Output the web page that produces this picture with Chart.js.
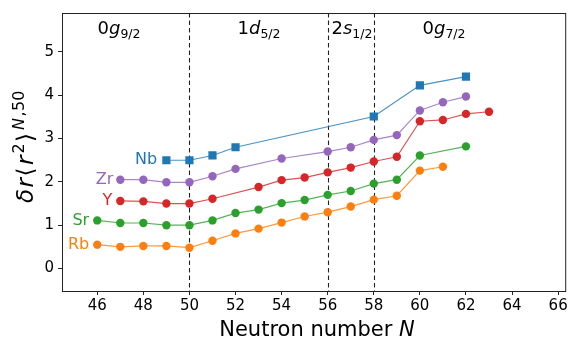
<!DOCTYPE html>
<html>
<head>
<meta charset="utf-8">
<script src="https://cdn.jsdelivr.net/npm/chart.js@4.4.0/dist/chart.umd.min.js"></script>
<style>
  body { margin: 0; background: #fff; }
  #wrap { width: 572px; height: 341px; }
</style>
</head>
<body>
<div id="wrap"><canvas id="c" width="572" height="341"></canvas></div>
<script>
// neutron numbers and charge radius differences per element
var nbN  = [49, 50, 51, 52, 58, 60, 62];
var nbV  = [2.50, 2.50, 2.61, 2.80, 3.51, 4.23, 4.43];
var zrN  = [47, 48, 49, 50, 51, 52, 54, 56, 57, 58, 59, 60, 61, 62];
var zrV  = [2.05, 2.05, 1.99, 1.99, 2.13, 2.30, 2.54, 2.70, 2.80, 2.97, 3.08, 3.65, 3.84, 3.97];
var yN   = [47, 48, 49, 50, 51, 53, 54, 55, 56, 57, 58, 59, 60, 61, 62, 63];
var yV   = [1.56, 1.55, 1.50, 1.50, 1.61, 1.88, 2.04, 2.10, 2.22, 2.33, 2.47, 2.58, 3.40, 3.43, 3.57, 3.62];
var srN  = [46, 47, 48, 49, 50, 51, 52, 53, 54, 55, 56, 57, 58, 59, 60, 62];
var srV  = [1.11, 1.05, 1.05, 1.00, 1.00, 1.11, 1.28, 1.36, 1.51, 1.58, 1.70, 1.79, 1.96, 2.05, 2.61, 2.82];
var rbN  = [46, 47, 48, 49, 50, 51, 52, 53, 54, 55, 56, 57, 58, 59, 60, 61];
var rbV  = [0.55, 0.50, 0.52, 0.52, 0.48, 0.64, 0.81, 0.92, 1.06, 1.20, 1.30, 1.43, 1.59, 1.68, 2.26, 2.35];

var xTicks = [46, 48, 50, 52, 54, 56, 58, 60, 62, 64, 66];
var yTicks = [0, 1, 2, 3, 4, 5];
var shellLines = [50, 56, 58];

var FONT = "'DejaVu Sans', sans-serif";

function pts(xs, ys) {
  return xs.map(function (x, i) { return { x: x, y: ys[i] }; });
}

function series(label, xs, ys, color, line, shape) {
  return {
    label: label,
    data: pts(xs, ys),
    borderColor: line,
    backgroundColor: color,
    borderWidth: 1.2,
    pointStyle: shape,
    pointRadius: shape == 'rect' ? 5.8 : 4.2,
    pointBorderWidth: 0,
    pointBackgroundColor: color,
    pointBorderColor: color
  };
}

// draw a list of [text, font, dy] pieces starting at x
function drawParts(ctx, parts, x, y, align) {
  var total = 0;
  parts.forEach(function (p) { ctx.font = p[1]; total += ctx.measureText(p[0]).width; });
  var cx = x;
  if (align == 'center') cx = x - total / 2;
  if (align == 'right') cx = x - total;
  parts.forEach(function (p) {
    ctx.font = p[1];
    ctx.fillText(p[0], cx, y + (p[2] || 0));
    cx += ctx.measureText(p[0]).width;
  });
}

var decor = {
  id: 'decor',
  beforeDatasetsDraw: function (chart) {
    var ctx = chart.ctx, xs = chart.scales.x, a = chart.chartArea;
    ctx.save();
    ctx.strokeStyle = '#222';
    ctx.lineWidth = 1.1;
    ctx.setLineDash([4.5, 3]);
    shellLines.forEach(function (n) {
      var px = Math.round(xs.getPixelForValue(n)) + 0.5;
      ctx.beginPath();
      ctx.moveTo(px, a.top);
      ctx.lineTo(px, a.bottom);
      ctx.stroke();
    });
    ctx.restore();
  },
  afterDraw: function (chart) {
    var ctx = chart.ctx, xs = chart.scales.x, ys = chart.scales.y, a = chart.chartArea;
    ctx.save();
    // frame
    ctx.strokeStyle = '#222';
    ctx.lineWidth = 1;
    ctx.strokeRect(a.left + 0.5, a.top + 0.5, a.right - a.left - 1, a.bottom - a.top);

    ctx.textBaseline = 'alphabetic';
    ctx.fillStyle = '#000';
    var big = "18px " + FONT, bigI = "italic 18px " + FONT, sub = "12.5px " + FONT;
    var ty = 34;
    drawParts(ctx, [['0', big], ['g', bigI], ['9/2', sub, 4]], 119, ty, 'center');
    drawParts(ctx, [['1', big], ['d', bigI], ['5/2', sub, 4]], 259, ty, 'center');
    drawParts(ctx, [['2', big], ['s', bigI], ['1/2', sub, 4]], 352, ty, 'center');
    drawParts(ctx, [['0', big], ['g', bigI], ['7/2', sub, 4]], 444, ty, 'center');

    // element labels
    var lf = "16px " + FONT;
    var labs = [['Nb', '#1f77b4', 48.6, 2.50], ['Zr', '#9467bd', 46.7, 2.05],
                ['Y', '#d62728', 46.65, 1.56], ['Sr', '#2ca02c', 45.65, 1.11], ['Rb', '#ff7f0e', 45.65, 0.55]];
    labs.forEach(function (l) {
      ctx.fillStyle = l[1];
      ctx.textBaseline = 'middle';
      drawParts(ctx, [[l[0], lf]], xs.getPixelForValue(l[2]), ys.getPixelForValue(l[3]), 'right');
    });

    // axis titles
    ctx.fillStyle = '#000';
    ctx.textBaseline = 'alphabetic';
    drawParts(ctx, [['Neutron number ', "21px " + FONT], ['N', "italic 21px " + FONT]], 317, 336, 'center');

    // y title, pieces placed along the rotated baseline like mathtext spacing
    ctx.translate(33, 203);
    ctx.rotate(-Math.PI / 2);
    var m = "italic 23px " + FONT, mu = "23px " + FONT, sp = "16px " + FONT, spI = "italic 16px " + FONT;
    var yl = [['\u03b4', m, 0, 0], ['r', m, 15.5, 0], ['\u27e8', mu, 26.5, 0], ['r', m, 38, 0],
              ['2', sp, 49.5, -9], ['\u27e9', mu, 61, 0], ['N', spI, 73, -9], [',', sp, 86.5, -9], ['50', sp, 92, -9]];
    yl.forEach(function (p) {
      ctx.font = p[1];
      ctx.fillText(p[0], p[2], p[3]);
    });
    ctx.restore();
  }
};

new Chart(document.getElementById('c'), {
  type: 'line',
  data: {
    datasets: [
      series('Nb', nbN, nbV, '#1f77b4', 'rgba(31,119,180,0.8)', 'rect'),
      series('Zr', zrN, zrV, '#9467bd', 'rgba(148,103,189,0.8)', 'circle'),
      series('Y', yN, yV, '#d62728', 'rgba(214,39,40,0.8)', 'circle'),
      series('Sr', srN, srV, '#2ca02c', 'rgba(44,160,44,0.8)', 'circle'),
      series('Rb', rbN, rbV, '#ff7f0e', 'rgba(255,127,14,0.8)', 'circle')
    ]
  },
  options: {
    responsive: false,
    animation: false,
    layout: { padding: { top: 6, right: 3, left: 0, bottom: 0 } },
    plugins: { legend: { display: false }, tooltip: { enabled: false } },
    scales: {
      x: {
        type: 'linear',
        min: 44.47,
        max: 66.35,
        afterFit: function (s) { s.height = 50; },
        afterBuildTicks: function (s) { s.ticks = xTicks.map(function (v) { return { value: v }; }); },
        grid: { drawOnChartArea: false, drawTicks: true, tickLength: 4, color: '#222' },
        border: { display: false },
        ticks: { color: '#000', font: { family: FONT, size: 15 }, padding: 2, maxRotation: 0 }
      },
      y: {
        min: -0.52,
        max: 5.9,
        afterFit: function (s) { s.width = 62; },
        afterBuildTicks: function (s) { s.ticks = yTicks.map(function (v) { return { value: v }; }); },
        grid: { drawOnChartArea: false, drawTicks: true, tickLength: 4, color: '#222' },
        border: { display: false },
        ticks: { color: '#000', font: { family: FONT, size: 15 }, padding: 4 }
      }
    }
  },
  plugins: [decor]
});
</script>
</body>
</html>
